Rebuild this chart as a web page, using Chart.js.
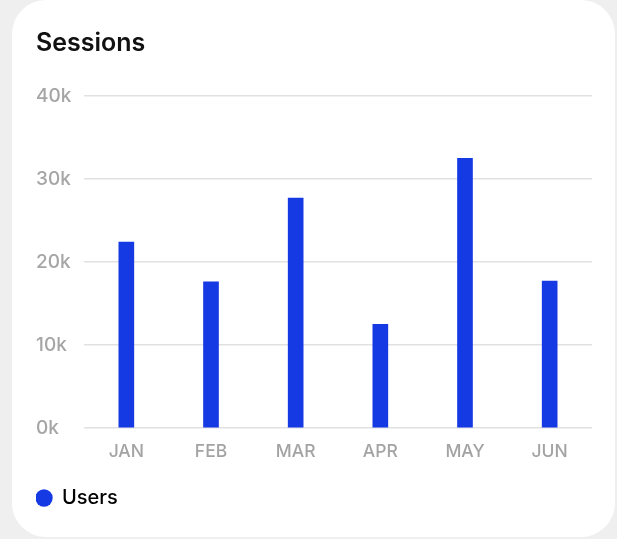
<!DOCTYPE html>
<html lang="en">
<head>
    <meta charset="UTF-8">
    <title>Sessions</title>
    <script src="https://cdn.jsdelivr.net/npm/chart.js"></script>
    <style>
        html, body { margin: 0; padding: 0; }
        body {
            width: 617px;
            height: 539px;
            background: #efefef;
            position: relative;
            overflow: hidden;
            font-family: Inter, sans-serif;
        }
        .card {
            position: absolute;
            left: 12px;
            top: 0;
            width: 603px;
            height: 537px;
            background: #fff;
            border-radius: 34px;
            overflow: hidden;
        }
    </style>
</head>
<body>
    <div class="card">
        <canvas id="grafico" width="603" height="537"></canvas>
    </div>

    <script>
        // dados
        const meses = ['JAN', 'FEB', 'MAR', 'APR', 'MAY', 'JUN'];
        const usuarios = [22400, 17600, 27700, 12500, 32500, 17700];
        const yTicks = [0, 10000, 20000, 30000, 40000];
        const azul = '#1539e3';

        // bolinha da legenda
        const ponto = document.createElement('canvas');
        ponto.width = 18;
        ponto.height = 18;
        const pctx = ponto.getContext('2d');
        pctx.fillStyle = azul;
        pctx.beginPath();
        pctx.arc(9, 9, 8.7, 0, Math.PI * 2);
        pctx.fill();

        const ctx = document.getElementById('grafico');
        new Chart(ctx, {
            type: 'bar',
            data: {
                labels: meses,
                datasets: [{
                    label: 'Users',
                    data: usuarios,
                    backgroundColor: azul,
                    borderWidth: 0,
                    barThickness: 15
                }]
            },
            options: {
                responsive: false,
                animation: false,
                layout: { padding: { left: 24, right: 23, top: 0, bottom: 19 } },
                plugins: {
                    title: {
                        display: true,
                        text: 'Sessions',
                        align: 'start',
                        color: '#111',
                        font: { family: 'Inter', size: 25, weight: '600' },
                        padding: { top: 28, bottom: 38 }
                    },
                    legend: {
                        position: 'bottom',
                        align: 'start',
                        labels: {
                            usePointStyle: true,
                            boxWidth: 16,
                            boxHeight: 16,
                            padding: 0,
                            color: '#111',
                            font: { family: 'Inter', size: 20, weight: '500' },
                            generateLabels: chart => chart.data.datasets.map((ds, i) => ({
                                text: ds.label,
                                fillStyle: azul,
                                strokeStyle: azul,
                                lineWidth: 0,
                                pointStyle: ponto,
                                hidden: false,
                                datasetIndex: i
                            }))
                        }
                    },
                    tooltip: { enabled: false }
                },
                scales: {
                    x: {
                        grid: { display: false },
                        border: { display: false },
                        afterFit: axis => { axis.height += 21; },
                        ticks: {
                            color: '#a3a3a3',
                            padding: 5,
                            font: { family: 'Inter', size: 17.5, weight: '500' }
                        }
                    },
                    y: {
                        min: yTicks[0],
                        max: yTicks[yTicks.length - 1],
                        afterBuildTicks: axis => { axis.ticks = yTicks.map(v => ({ value: v })); },
                        afterFit: axis => { axis.width = 48; },
                        grid: { color: '#e1e1e1', lineWidth: 1.5, drawTicks: false },
                        border: { display: false },
                        ticks: {
                            color: '#a5a5a5',
                            crossAlign: 'far',
                            padding: 12,
                            font: { family: 'Inter', size: 19, weight: '500' },
                            callback: v => (v / 1000) + 'k'
                        }
                    }
                }
            }
        });
    </script>
</body>
</html>
